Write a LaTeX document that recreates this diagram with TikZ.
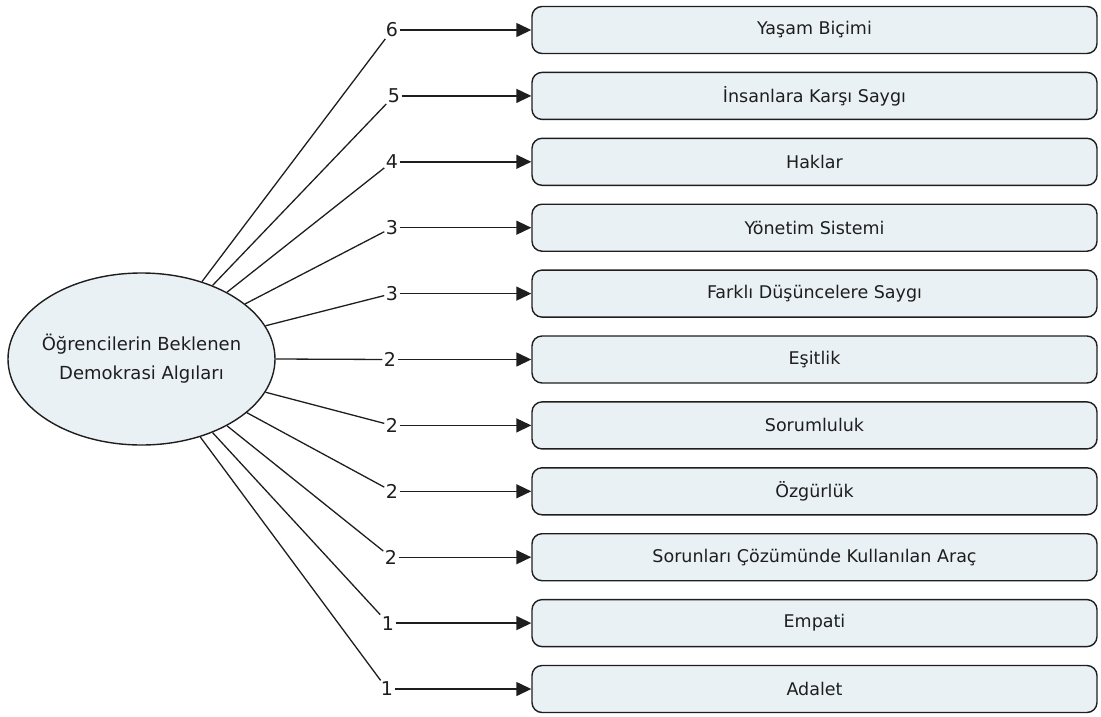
\documentclass[tikz,border=0pt]{standalone}
\usepackage{fontspec}
\setmainfont{DejaVu Sans}
\usetikzlibrary{arrows.meta,shapes.geometric}
\definecolor{boxfill}{HTML}{EAF1F5}
\definecolor{ink}{HTML}{1E1E1E}
\tikzset{
  catbox/.style={draw=ink, line width=1.4pt, rounded corners=10pt, fill=boxfill,
    minimum width=565pt, minimum height=47pt, inner sep=0pt, font=\fontsize{17.5}{20}\selectfont, text=ink},
  center/.style={draw=ink, line width=1.4pt, ellipse, fill=boxfill, minimum width=267pt,
    minimum height=172pt, inner sep=0pt},
  centertext/.style={inner sep=0pt, align=center, font=\fontsize{18}{29}\selectfont, text=ink},
  numlab/.style={inner sep=1.5pt, font=\fontsize{19}{21}\selectfont, text=ink},
  spoke/.style={draw=ink, line width=1.3pt},
  arr/.style={draw=ink, line width=1.4pt, -{Triangle[length=15pt,width=14pt]}}
}
\begin{document}
\begin{tikzpicture}[x=1pt,y=-1pt]
\useasboundingbox (0,0) rectangle (1101,716);
\node[center] (E) at (141.5,359) {};
\node[centertext] (ET) at (E.center) {Öğrencilerin Beklenen\\Demokrasi Algıları};
\foreach \i/\t/\lx/\n/\a in {
  1/Yaşam Biçimi/392/6/52,
  2/İnsanlara Karşı Saygı/394/5/46,
  3/Haklar/392/4/38,
  4/Yönetim Sistemi/392/3/28,
  5/Farklı Düşüncelere Saygı/392/3/15,
  6/Eşitlik/390/2/0,
  7/Sorumluluk/392/2/-15,
  8/Özgürlük/392/2/-27,
  9/Sorunları Çözümünde Kullanılan Araç/391/2/-38,
  10/Empati/388/1/-46,
  11/Adalet/387/1/-53}{
  \pgfmathsetmacro{\yy}{30+65.9*(\i-1)}
  \node[catbox] (B\i) at (814.5,\yy) {\t};
  \node[numlab] (L\i) at (\lx,\yy) {\n};
  \draw[spoke] (E.\a) -- (L\i);
  \draw[arr] (L\i) -- (B\i);
}
\end{tikzpicture}
\end{document}
